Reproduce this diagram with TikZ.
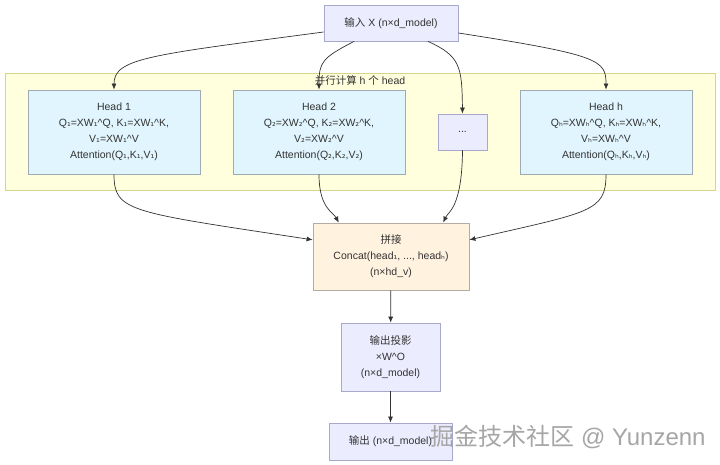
\documentclass[tikz,border=0pt]{standalone}
\usepackage{fontspec}
\setmainfont{Liberation Sans}
\newfontfamily\cjk{Noto Sans CJK SC}
\newfontfamily\dejavu[Scale=0.9]{DejaVu Sans}
\usetikzlibrary{arrows.meta}
\definecolor{lavfill}{HTML}{ECECFF}
\definecolor{lavline}{HTML}{A8A8CC}
\definecolor{headfill}{HTML}{E1F5FE}
\definecolor{headline}{HTML}{9EAAB4}
\definecolor{catfill}{HTML}{FFF3E0}
\definecolor{catline}{HTML}{B4ABA2}
\definecolor{grpfill}{HTML}{FFFFDE}
\definecolor{grpline}{HTML}{D6D68A}
\definecolor{ink}{HTML}{333333}
\newcommand\lo[1]{{\dejavu #1}}

\begin{document}
\begin{tikzpicture}[x=1pt,y=-1pt]
        \tikzstyle{every node}=[align=center, inner sep=2pt, text=ink, font=\fontsize{10.5}{16}\selectfont]
        \tikzstyle{lavbox}=[rectangle, fill=lavfill, draw=lavline, line width=0.8pt]
        \tikzstyle{headbox}=[rectangle, fill=headfill, draw=headline, line width=0.8pt, minimum width=172pt, minimum height=84pt]
        \tikzstyle{arr}=[draw=ink, line width=0.7pt, -{Latex[length=6pt,width=5pt]}]
        \useasboundingbox[fill=white] (0,0) rectangle (720,465);
        % parallel heads group
        \node[fill=grpfill, draw=grpline, line width=0.8pt, minimum width=710pt, minimum height=117pt] (grp) at (360,131.5) {};
        \node (grptitle) at (360,81) {{\cjk 并行计算} h {\cjk 个} head};
        % nodes
        \node[lavbox, minimum width=134pt, minimum height=36pt] (in) at (391,23) {{\cjk 输入} X (n×d\_model)};
        \node[headbox] (h1) at (114,132) {Head 1\\Q\lo{₁}=XW\lo{₁}\^{}Q, K\lo{₁}=XW\lo{₁}\^{}K,\\V\lo{₁}=XW\lo{₁}\^{}V\\Attention(Q\lo{₁},K\lo{₁},V\lo{₁})};
        \node[headbox] (h2) at (319,132) {Head 2\\Q\lo{₂}=XW\lo{₂}\^{}Q, K\lo{₂}=XW\lo{₂}\^{}K,\\V\lo{₂}=XW\lo{₂}\^{}V\\Attention(Q\lo{₂},K\lo{₂},V\lo{₂})};
        \node[lavbox, minimum width=49pt, minimum height=36pt] (dots) at (462.5,132) {...};
        \node[headbox] (hh) at (606,132) {Head h\\Q\lo{ₕ}=XW\lo{ₕ}\^{}Q, K\lo{ₕ}=XW\lo{ₕ}\^{}K,\\V\lo{ₕ}=XW\lo{ₕ}\^{}V\\Attention(Q\lo{ₕ},K\lo{ₕ},V\lo{ₕ})};
        \node[rectangle, fill=catfill, draw=catline, line width=0.8pt, minimum width=156pt, minimum height=67pt] (cat) at (391,256.5) {{\cjk 拼接}\\Concat(head\lo{₁}, ..., head\lo{ₕ})\\(n×hd\_v)};
        \node[lavbox, minimum width=99pt, minimum height=68pt] (proj) at (390.5,357) {{\cjk 输出投影}\\×W\^{}O\\(n×d\_model)};
        \node[lavbox, minimum width=123pt, minimum height=37pt] (out) at (390.5,441.5) {{\cjk 输出} (n×d\_model)};
        \node[text=gray!70, font=\fontsize{24}{24}\selectfont] (mark) at (568,437) {{\cjk 掘金技术社区} @ Yunzenn};
        % connectors
        \draw[arr] ([yshift=-9pt]in.west) .. controls (150,55) and (114,58) .. (h1.north);
        \draw[arr] ([xshift=-37pt]in.south) .. controls (322,58) and (319,62) .. (h2.north);
        \draw[arr] ([xshift=37pt]in.south) .. controls (460,56) and (462,66) .. (dots.north);
        \draw[arr] ([yshift=-10pt]in.east) .. controls (600,55) and (606,60) .. (hh.north);
        \draw[arr] (h1.south) .. controls (114,212) and (130,212) .. (cat.168);
        \draw[arr] (h2.south) .. controls (319,208) and (333,212) .. (cat.147);
        \draw[arr] (dots.south) .. controls (462,208) and (448,212) .. (cat.33);
        \draw[arr] (hh.south) .. controls (606,212) and (590,212) .. (cat.12);
        \draw[arr] (cat) -- (proj);
        \draw[arr] (proj) -- (out);
\end{tikzpicture}
\end{document}
